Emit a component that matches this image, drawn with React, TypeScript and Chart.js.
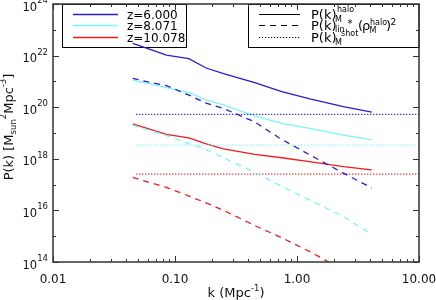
import React, { useEffect, useRef } from 'react';
import { Chart, registerables } from 'chart.js';
Chart.register(...registerables);

const FONT = '"DejaVu Sans", "Liberation Sans", sans-serif';

// k bins (Mpc^-1)
const kBins = [0.045, 0.06, 0.085, 0.13, 0.18, 0.25, 0.45, 0.75, 1.3, 2.4, 4.1];
const shotK = [0.048, 10];

const zLabels = ['z=6.000', 'z=8.071', 'z=10.078'];
const lineColors = ['#2a1ccc', '#78f6f6', '#ee1c1c'];

// P(k)_M^halo
const haloZ6 = [3.0e22, 1.86e22, 1.05e22, 7.6e21, 3.3e21, 2.0e21, 8.9e20, 4.0e20, 2.04e20, 1.05e20, 6.5e19];
const haloZ8 = [1.12e21, 8.3e20, 5.75e20, 3.7e20, 1.9e20, 1.23e20, 4.6e19, 2.35e19, 1.48e19, 8.3e18, 5.4e18];
const haloZ10 = [2.24e19, 1.48e19, 8.9e18, 6.5e18, 3.8e18, 2.4e18, 1.48e18, 1.1e18, 7.6e17, 5.0e17, 3.7e17];

// P(k)_lin * (rho_M^halo)^2
const linZ6 = [1.32e21, 9.5e20, 6.9e20, 2.95e20, 1.45e20, 8.9e19, 2.7e19, 5.6e18, 1.35e18, 2.8e17, 7.4e16];
const linZ8 = [2.04e19, 1.32e19, 7.9e18, 3.9e18, 2.3e18, 1.1e18, 3.0e17, 8.5e16, 2.4e16, 5.75e15, 1.17e15];
const linZ10 = [1.9e17, 1.26e17, 7.8e16, 3.6e16, 1.95e16, 1.0e16, 2.6e15, 8.7e14, 2.4e14, 4.9e13, 1.07e13];

// P(k)_M^shot
const shotLevels = [5.25e19, 3.4e18, 2.55e17];

const xMin = 0.01, xMax = 10, yMin = 1e14, yMax = 1e24;
const xTickVals = [0.01, 0.1, 1, 10];
const xTickText = ['0.01', '0.10', '1.00', '10.00'];
const yTickExps = [14, 16, 18, 20, 22, 24];

const haloSeries = [haloZ6, haloZ8, haloZ10];
const linSeries = [linZ6, linZ8, linZ10];

type Seg = { t: string; s: number; dy?: number };

function rich(ctx: CanvasRenderingContext2D, segs: Seg[], x: number, y: number) {
  let cx = x;
  ctx.textAlign = 'left';
  for (const g of segs) {
    ctx.font = `${g.s}px ${FONT}`;
    ctx.fillText(g.t, cx, y + (g.dy || 0));
    cx += ctx.measureText(g.t).width;
  }
  return cx;
}
function richWidth(ctx: CanvasRenderingContext2D, segs: Seg[]) {
  let w = 0;
  for (const g of segs) {
    ctx.font = `${g.s}px ${FONT}`;
    w += ctx.measureText(g.t).width;
  }
  return w;
}
function txt(ctx: CanvasRenderingContext2D, t: string, x: number, y: number, s: number) {
  ctx.font = `${s}px ${FONT}`;
  ctx.textAlign = 'left';
  ctx.fillText(t, x, y);
}

const legY = [14.5, 25.5, 37.5];

const idlPlugin = {
  id: 'idlAxes',
  beforeDatasetsDraw(chart: any) {
    const ctx: CanvasRenderingContext2D = chart.ctx;
    const a = chart.chartArea;
    ctx.save();
    ctx.textBaseline = 'alphabetic';
    // Left legend
    ctx.strokeStyle = '#000';
    ctx.lineWidth = 1;
    ctx.strokeRect(62.5, 4.5, 124, 43);
    for (let i = 0; i < 3; i++) {
      ctx.strokeStyle = lineColors[i];
      ctx.lineWidth = 1.3;
      ctx.setLineDash([]);
      ctx.beginPath();
      ctx.moveTo(73, legY[i]);
      ctx.lineTo(118, legY[i]);
      ctx.stroke();
      ctx.fillStyle = '#000';
      txt(ctx, zLabels[i], 127, legY[i] + 4.5, 12);
    }

    // Right legend
    ctx.strokeStyle = '#000';
    ctx.lineWidth = 1;
    ctx.strokeRect(248.5, 4.5, a.right - 248.5, 43);
    const dashes = [[], [6, 5], [1.2, 1.8]];
    for (let i = 0; i < 3; i++) {
      ctx.strokeStyle = '#000';
      ctx.lineWidth = 1.1;
      ctx.setLineDash(dashes[i]);
      ctx.beginPath();
      ctx.moveTo(259, legY[i]);
      ctx.lineTo(300, legY[i]);
      ctx.stroke();
    }
    ctx.setLineDash([]);
    ctx.fillStyle = '#000';
    // line 1
    txt(ctx, 'P(k)', 311, 19, 13);
    txt(ctx, 'M', 335, 21.5, 8);
    txt(ctx, 'halo', 337, 11.5, 8);
    // line 2
    txt(ctx, 'P(k)', 311, 30, 13);
    txt(ctx, 'lin', 335, 31.5, 8);
    txt(ctx, '*', 347.5, 27, 10);
    txt(ctx, 'shot', 341, 36, 8);
    txt(ctx, '(', 358, 30, 13);
    txt(ctx, 'ρ', 362, 30, 13);
    txt(ctx, 'M', 369.5, 33, 8);
    txt(ctx, 'halo', 370, 24.5, 8);
    txt(ctx, ')', 386, 30, 13);
    txt(ctx, '2', 390.5, 24.5, 9);
    // line 3
    txt(ctx, 'P(k)', 311, 41.5, 13);
    txt(ctx, 'M', 335, 45, 8);
    ctx.restore();
  },
  afterDraw(chart: any) {
    const ctx: CanvasRenderingContext2D = chart.ctx;
    const a = chart.chartArea;
    const xs = chart.scales.x;
    const ys = chart.scales.y;
    ctx.save();
    ctx.textBaseline = 'alphabetic';

    // Axes box
    ctx.strokeStyle = '#333';
    ctx.lineWidth = 1.5;
    ctx.strokeRect(a.left, a.top, a.right - a.left, a.bottom - a.top);
    ctx.lineWidth = 1;
    const seg = (x1: number, y1: number, x2: number, y2: number) => {
      ctx.beginPath();
      ctx.moveTo(x1, y1);
      ctx.lineTo(x2, y2);
      ctx.stroke();
    };
    // x ticks
    for (let e = -2; e <= 1; e++) {
      for (let m = 1; m <= 9; m++) {
        const v = m * Math.pow(10, e);
        if (v > xMax * 1.0001) break;
        const px = Math.round(xs.getPixelForValue(v)) + 0.5;
        const len = m === 1 ? 6 : 3;
        seg(px, a.bottom, px, a.bottom - len);
        seg(px, a.top, px, a.top + len);
      }
    }
    // y ticks
    for (let e = 14; e <= 24; e++) {
      const py = Math.round(ys.getPixelForValue(Math.pow(10, e))) + 0.5;
      const len = e % 2 === 0 ? 6 : 3;
      seg(a.left, py, a.left + len, py);
      seg(a.right, py, a.right - len, py);
    }

    // x tick labels
    ctx.fillStyle = '#111';
    ctx.font = `12px ${FONT}`;
    ctx.textAlign = 'center';
    xTickVals.forEach((v, i) => {
      ctx.fillText(xTickText[i], xs.getPixelForValue(v), a.bottom + 20.5);
    });
    // y tick labels
    yTickExps.forEach((e) => {
      const py = ys.getPixelForValue(Math.pow(10, e));
      const segs: Seg[] = [
        { t: '10', s: 11.5 },
        { t: String(e), s: 8.5, dy: -7.5 },
      ];
      const w = richWidth(ctx, segs);
      rich(ctx, segs, a.left - 5 - w, py + 6.5);
    });

    // x title
    const xt: Seg[] = [
      { t: 'k (Mpc', s: 13 },
      { t: '-1', s: 8.5, dy: -6 },
      { t: ')', s: 13 },
    ];
    const xw = richWidth(ctx, xt);
    rich(ctx, xt, (a.left + a.right) / 2 - xw / 2, 297);

    // y title
    const yt: Seg[] = [
      { t: 'P(k) [M', s: 13 },
      { t: 'sun', s: 8.5, dy: 3 },
      { t: '2', s: 8.5, dy: -7 },
      { t: 'Mpc', s: 13 },
      { t: '-3', s: 8.5, dy: -7 },
      { t: ']', s: 13 },
    ];
    const yw = richWidth(ctx, yt);
    ctx.save();
    ctx.translate(13, 127);
    ctx.rotate(-Math.PI / 2);
    rich(ctx, yt, -yw / 2, 0);
    ctx.restore();

    ctx.restore();
  },
};

export default function App() {
  const ref = useRef<HTMLCanvasElement | null>(null);
  useEffect(() => {
    if (!ref.current) return;
    const datasets: any[] = [];
    for (let i = 0; i < 3; i++) {
      datasets.push({
        data: kBins.map((k, j) => ({ x: k, y: haloSeries[i][j] })),
        borderColor: lineColors[i],
        borderWidth: 1.3,
        pointRadius: 0,
        fill: false,
      });
      datasets.push({
        data: kBins.map((k, j) => ({ x: k, y: linSeries[i][j] })),
        borderColor: lineColors[i],
        borderWidth: 1.3,
        borderDash: [6, 5],
        pointRadius: 0,
        fill: false,
      });
      datasets.push({
        data: shotK.map((k) => ({ x: k, y: shotLevels[i] })),
        borderColor: lineColors[i],
        borderWidth: 1.2,
        borderDash: [1.2, 1.8],
        pointRadius: 0,
        fill: false,
      });
    }
    const chart = new Chart(ref.current, {
      type: 'line',
      data: { datasets },
      options: {
        animation: false,
        responsive: false,
        events: [],
        layout: { padding: { left: 53, right: 17, top: 4, bottom: 38 } },
        plugins: { legend: { display: false }, tooltip: { enabled: false } },
        scales: {
          x: { type: 'logarithmic', min: xMin, max: xMax, display: false },
          y: { type: 'logarithmic', min: yMin, max: yMax, display: false },
        },
      },
      plugins: [idlPlugin],
    });
    return () => chart.destroy();
  }, []);
  return (
    <div style={{ position: 'absolute', left: 0, top: 0, width: 436, height: 300, background: '#fff' }}>
      <canvas ref={ref} width={436} height={300} style={{ width: 436, height: 300, display: 'block' }} />
    </div>
  );
}
